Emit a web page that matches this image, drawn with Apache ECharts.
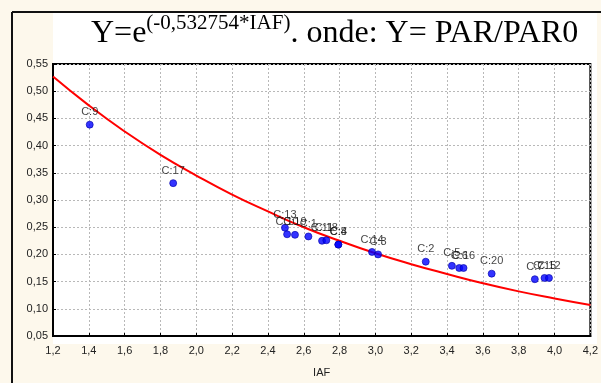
<!DOCTYPE html>
<html><head><meta charset="utf-8">
<script src="https://cdn.jsdelivr.net/npm/echarts@6/dist/echarts.min.js"></script>
<style>html,body{margin:0;padding:0;background:#fdf8ec;}#c{width:601px;height:383px;}</style>
</head><body><div id="c"></div>
<script>
// Observed points
const pointNames = ['C:9','C:17','C:13','C:10','C:19','C:1','C:11','C:18','C:4','C:8','C:14','C:3','C:2','C:5','C:6','C:16','C:20','C:7','C:15','C:12'];
const iafValues = [1.405,1.871,2.495,2.507,2.551,2.626,2.702,2.726,2.793,2.793,2.981,3.015,3.281,3.427,3.468,3.492,3.649,3.890,3.944,3.969];
const parRatio = [0.4385,0.331,0.249,0.237,0.236,0.233,0.225,0.226,0.218,0.218,0.2045,0.200,0.1866,0.179,0.175,0.175,0.1646,0.1544,0.1567,0.1567];
// Fitted curve
const curveX = [1.2,1.4,1.6,1.8,2.0,2.2,2.4,2.6,2.8,3.0,3.2,3.4,3.6,3.8,4.0,4.2];
const curveY = [0.527,0.474,0.426,0.383,0.345,0.310,0.279,0.250,0.225,0.202,0.182,0.164,0.147,0.132,0.119,0.107];
const titleMain1 = 'Y=e';
const titleSup = '(-0,532754*IAF)';
const titleMain2 = '. onde: Y= PAR/PAR0';
const xAxisName = 'IAF';

const chart = echarts.init(document.getElementById('c'), null, {renderer:'canvas'});
const font = 'Liberation Sans, Arial, sans-serif';
const serif = 'Liberation Serif, Times New Roman, serif';
const comma = (v, d) => v.toFixed(d).replace('.', ',');
chart.setOption({
  backgroundColor: '#fdf8ec',
  animation: false,
  title: {
    text: '{a|' + titleMain1 + '}{s|' + titleSup + '}{a|' + titleMain2 + '}',
    left: 86, top: 8,
    textStyle: {
      rich: {
        a: {fontFamily: serif, fontWeight: 'normal', fontSize: 32, lineHeight: 37, verticalAlign: 'bottom', color: '#000'},
        s: {fontFamily: serif, fontWeight: 'normal', fontSize: 21, lineHeight: 21, verticalAlign: 'top', color: '#000'}
      }
    }
  },
  graphic: [
    {type: 'rect', z: -10, shape: {x: 53, y: 12, width: 544, height: 332}, style: {fill: '#ffffff'}},
    {type: 'line', z: 10, shape: {x1: 12, y1: 12, x2: 12, y2: 383}, style: {stroke: '#111', lineWidth: 2}},
    {type: 'line', z: 10, shape: {x1: 12, y1: 12, x2: 601, y2: 12}, style: {stroke: '#111', lineWidth: 2}}
  ],
  grid: {left: 53, right: 7, top: 64, bottom: 40, show: true, backgroundColor: '#fff', borderColor: '#000', borderWidth: 2},
  xAxis: {
    type: 'value', min: 1.2, max: 4.2, interval: 0.2,
    name: xAxisName, nameLocation: 'middle', nameGap: 31,
    nameTextStyle: {fontFamily: font, fontSize: 11, color: '#222'},
    axisLine: {show: true, onZero: false, lineStyle: {color: '#000', width: 2}},
    axisTick: {show: true, inside: true, length: 3, lineStyle: {color: '#000'}},
    axisLabel: {fontFamily: font, fontSize: 11, color: '#222', margin: 9, formatter: v => comma(v, 1), showMinLabel: true, showMaxLabel: true},
    splitLine: {show: true, lineStyle: {color: '#b8b8b8', type: [2, 2], width: 1}}
  },
  yAxis: {
    type: 'value', min: 0.05, max: 0.55, interval: 0.05,
    axisLine: {show: true, onZero: false, lineStyle: {color: '#000', width: 2}},
    axisTick: {show: true, inside: true, length: 3, lineStyle: {color: '#000'}},
    axisLabel: {fontFamily: font, fontSize: 11, color: '#222', margin: 5, formatter: v => comma(v, 2)},
    splitLine: {show: true, lineStyle: {color: '#b8b8b8', type: [2, 2], width: 1}}
  },
  series: [
    {
      type: 'line', smooth: true, symbol: 'none', z: 3,
      data: curveX.map((x, i) => [x, curveY[i]]),
      lineStyle: {color: '#ff0000', width: 2}
    },
    {
      type: 'scatter', symbol: 'circle', symbolSize: 7, z: 4,
      data: iafValues.map((x, i) => ({value: [x, parRatio[i]], name: pointNames[i]})),
      itemStyle: {color: '#0000ff', borderColor: '#0000aa', borderWidth: 0.8},
      label: {show: true, position: 'top', distance: 3, formatter: p => p.name, fontFamily: font, fontSize: 11, color: '#111'}
    }
  ]
});
</script></body></html>
